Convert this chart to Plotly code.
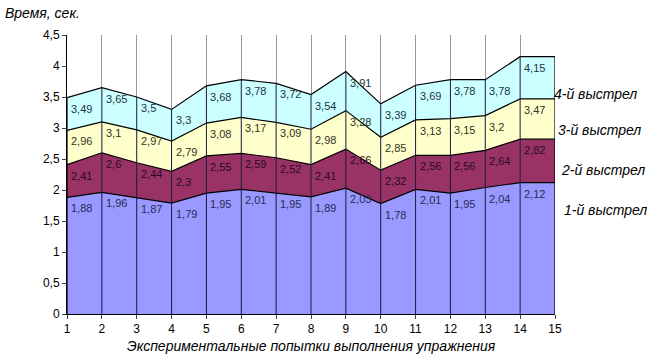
import plotly.graph_objects as go

attempts = list(range(1, 15))
shot1 = [1.88, 1.96, 1.87, 1.79, 1.95, 2.01, 1.95, 1.89, 2.03, 1.78, 2.01, 1.95, 2.04, 2.12]
shot2_cum = [2.41, 2.6, 2.44, 2.3, 2.55, 2.59, 2.52, 2.41, 2.66, 2.32, 2.56, 2.56, 2.64, 2.82]
shot3_cum = [2.96, 3.1, 2.97, 2.79, 3.08, 3.17, 3.09, 2.98, 3.28, 2.85, 3.13, 3.15, 3.2, 3.47]
shot4_cum = [3.49, 3.65, 3.5, 3.3, 3.68, 3.78, 3.72, 3.54, 3.91, 3.39, 3.69, 3.78, 3.78, 4.15]
series_names = ["1-й выстрел", "2-й выстрел", "3-й выстрел", "4-й выстрел"]
colors = ["#9999FF", "#993366", "#FFFFCC", "#CCFFFF"]
label_colors = ["#2a2a55", "#2a0a22", "#333322", "#223344"]
x_ticks = list(range(1, 16))
name_y = [1.68, 2.32, 2.97, 3.55]  # label placement on the right
name_xshift = [7, 4, 1, -3]

layers = [shot1, shot2_cum, shot3_cum, shot4_cum]
x_end = x_ticks[-1]
xs = attempts + [x_end]
FONT = "Liberation Sans, Arial"

fig = go.Figure()
for i in range(3, -1, -1):
    ys = layers[i] + [layers[i][-1]]
    fig.add_trace(go.Scatter(
        x=[xs[0]] + xs + [xs[-1]], y=[0] + ys + [0],
        mode="lines", fill="toself", fillcolor=colors[i],
        line=dict(color="#000000", width=1.2), hoverinfo="skip",
        showlegend=False))

vx, vy = [], []
for k, x in enumerate(attempts[1:], start=1):
    vx += [x, x, None]
    vy += [0, shot4_cum[k], None]
fig.add_trace(go.Scatter(x=vx, y=vy, mode="lines",
                         line=dict(color="#1a1a40", width=1), hoverinfo="skip",
                         showlegend=False))

for i in range(4):
    for x, v in zip(attempts, layers[i]):
        fig.add_annotation(x=x, y=v, xref="x", yref="y", xanchor="left", yanchor="top",
                           xshift=2, yshift=-3, showarrow=False,
                           text=f"{v:g}".replace(".", ","),
                           font=dict(family=FONT, size=11, color=label_colors[i]))

for i in range(4):
    fig.add_annotation(x=1.0, xref="paper", xanchor="left", xshift=name_xshift[i],
                       y=name_y[i], yref="y", text=series_names[i], showarrow=False,
                       font=dict(family=FONT, size=14, color="#000000", style="italic"))

fig.add_annotation(x=0, y=1, xref="paper", yref="paper", xanchor="left", yanchor="top",
                   text="Время, сек.", showarrow=False, xshift=-64, yshift=32,
                   font=dict(family=FONT, size=14, style="italic", color="#000"))

fig.add_annotation(x=0.5, y=0, xref="paper", yref="paper", xanchor="center", yanchor="middle",
                   text="Экспериментальные попытки выполнения упражнения", showarrow=False,
                   yshift=-32,
                   font=dict(family=FONT, size=14, style="italic", color="#000"))

fig.update_layout(
    width=671, height=355,
    margin=dict(l=67, r=116, t=35, b=41, autoexpand=False),
    plot_bgcolor="white", paper_bgcolor="white",
    separators=",.",
    xaxis=dict(range=[1, 15], tickvals=x_ticks, ticks="outside", ticklen=4,
               showline=True, linecolor="#000", showgrid=True, gridcolor="#999999",
               gridwidth=1, zeroline=False, automargin=False,
               tickfont=dict(family=FONT, size=12, color="#000")),
    yaxis=dict(range=[0, 4.5], dtick=0.5, ticks="outside", ticklen=4,
               showline=True, linecolor="#000", showgrid=False, zeroline=False,
               tickformat=".1~f", automargin=False,
               tickfont=dict(family=FONT, size=12, color="#000")),
)

fig.write_html("out.html", config={"displayModeBar": False},
               post_script="document.body.style.margin='0';")
